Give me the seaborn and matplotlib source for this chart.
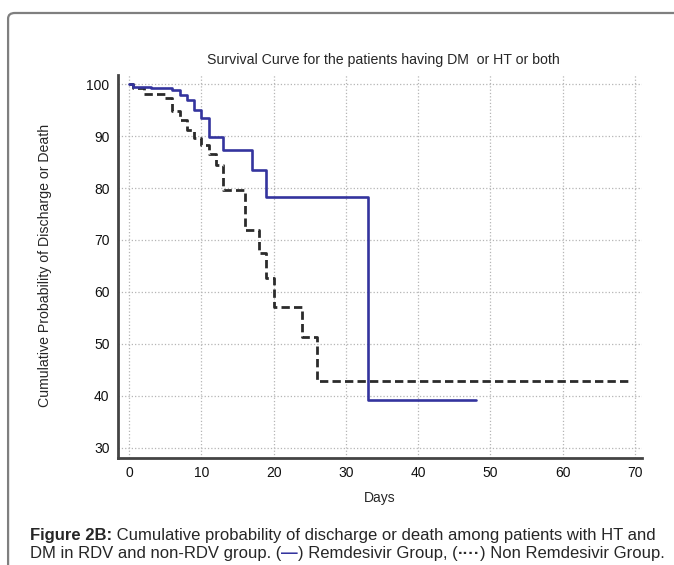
import pandas as pd
import seaborn as sns
import matplotlib.pyplot as plt
from matplotlib.patches import FancyBboxPatch
from matplotlib.ticker import MultipleLocator

# Kaplan-Meier style step values
rdv_days = [0, 0.5, 3, 6, 7, 8, 9, 10, 11, 13, 17, 19, 33, 48]
rdv_prob = [100, 99.5, 99.2, 98.8, 98.0, 97.0, 95.1, 93.5, 89.9, 87.4, 83.5, 78.2, 39.2, 39.2]

non_days = [0, 0.5, 2, 5, 6, 7, 8, 9, 10, 11, 12, 13, 16, 18, 19, 20, 24, 26, 69]
non_prob = [100, 99.3, 98.1, 97.3, 94.8, 93.2, 91.2, 89.7, 88.3, 86.6, 84.5, 79.7,
            72.0, 67.5, 62.7, 57.1, 51.4, 42.9, 42.9]

title = "Survival Curve for the patients having DM  or HT or both"
xlabel = "Days"
ylabel = "Cumulative Probability of Discharge or Death"

BLUE = "#34349e"
DARK = "#2b2b2b"

sns.set_style("white")
plt.rcParams["font.family"] = ["Liberation Sans", "DejaVu Sans"]

df_rdv = pd.DataFrame({"days": rdv_days, "prob": rdv_prob})
df_non = pd.DataFrame({"days": non_days, "prob": non_prob})

fig = plt.figure(figsize=(6.74, 5.65), dpi=100)
ax = fig.add_axes([0.175, 0.1894, 0.7775, 0.678])

# outer frame
frame = FancyBboxPatch((0.012, -0.05), 1.05, 1.027, boxstyle="round,pad=0,rounding_size=0.01",
                       transform=fig.transFigure, fill=False, ec="#7f7f7f", lw=1.6)
fig.patches.append(frame)

sns.lineplot(data=df_non, x="days", y="prob", ax=ax, estimator=None, sort=False,
             drawstyle="steps-post", color=DARK, lw=2.0, linestyle=(0, (3, 1.5)))
sns.lineplot(data=df_rdv, x="days", y="prob", ax=ax, estimator=None, sort=False,
             drawstyle="steps-post", color=BLUE, lw=1.9)

ax.set_xlim(-1.55, 71.0)
ax.set_ylim(28.0, 101.8)
ax.xaxis.set_major_locator(MultipleLocator(10))
ax.xaxis.set_minor_locator(MultipleLocator(5))
ax.yaxis.set_major_locator(MultipleLocator(10))
ax.yaxis.set_minor_locator(MultipleLocator(5))
ax.grid(True, which="major", ls=":", color="#b5b5b5", lw=0.9)

for s in ["top", "right"]:
    ax.spines[s].set_visible(False)
for s in ["left", "bottom"]:
    ax.spines[s].set_color("#444444")
    ax.spines[s].set_linewidth(2.0)

ax.tick_params(which="major", direction="in", length=6, width=1.4, color="#444444",
               labelsize=10, pad=6, labelcolor="#111111")
ax.tick_params(which="minor", direction="in", length=3, width=1.2, color="#444444")

ax.set_xlabel(xlabel, fontsize=10, labelpad=8)
ax.set_ylabel("")
fig.text(45 / 674, 1 - 265 / 565, ylabel, rotation=90, fontsize=10.2,
         ha="center", va="center")
fig.text(383 / 674, 1 - 60 / 565, title, fontsize=10.2, ha="center", va="center")

# caption, built from pieces so parts can be bold / coloured
renderer = fig.canvas.get_renderer()


def caption_line(pieces, x0, y):
    x = x0
    for txt, kw in pieces:
        t = fig.text(x, y, txt, fontsize=12, va="baseline", ha="left", **kw)
        bb = t.get_window_extent(renderer=renderer)
        x += bb.width / fig.bbox.width


caption_line([("Figure 2B:", {"fontweight": "bold"}),
              (" Cumulative probability of discharge or death among patients with HT and", {})],
             30 / 674, 1 - 540 / 565)
caption_line([("DM in RDV and non-RDV group. (", {}),
              ("\u2014", {"color": BLUE, "fontweight": "bold"}),
              (") Remdesivir Group, (", {}),
              ("\u00b7\u00b7\u00b7\u00b7", {"color": DARK, "fontweight": "bold"}),
              (") Non Remdesivir Group.", {})],
             30 / 674, 1 - 558 / 565)

plt.savefig("out.png", dpi=100)
